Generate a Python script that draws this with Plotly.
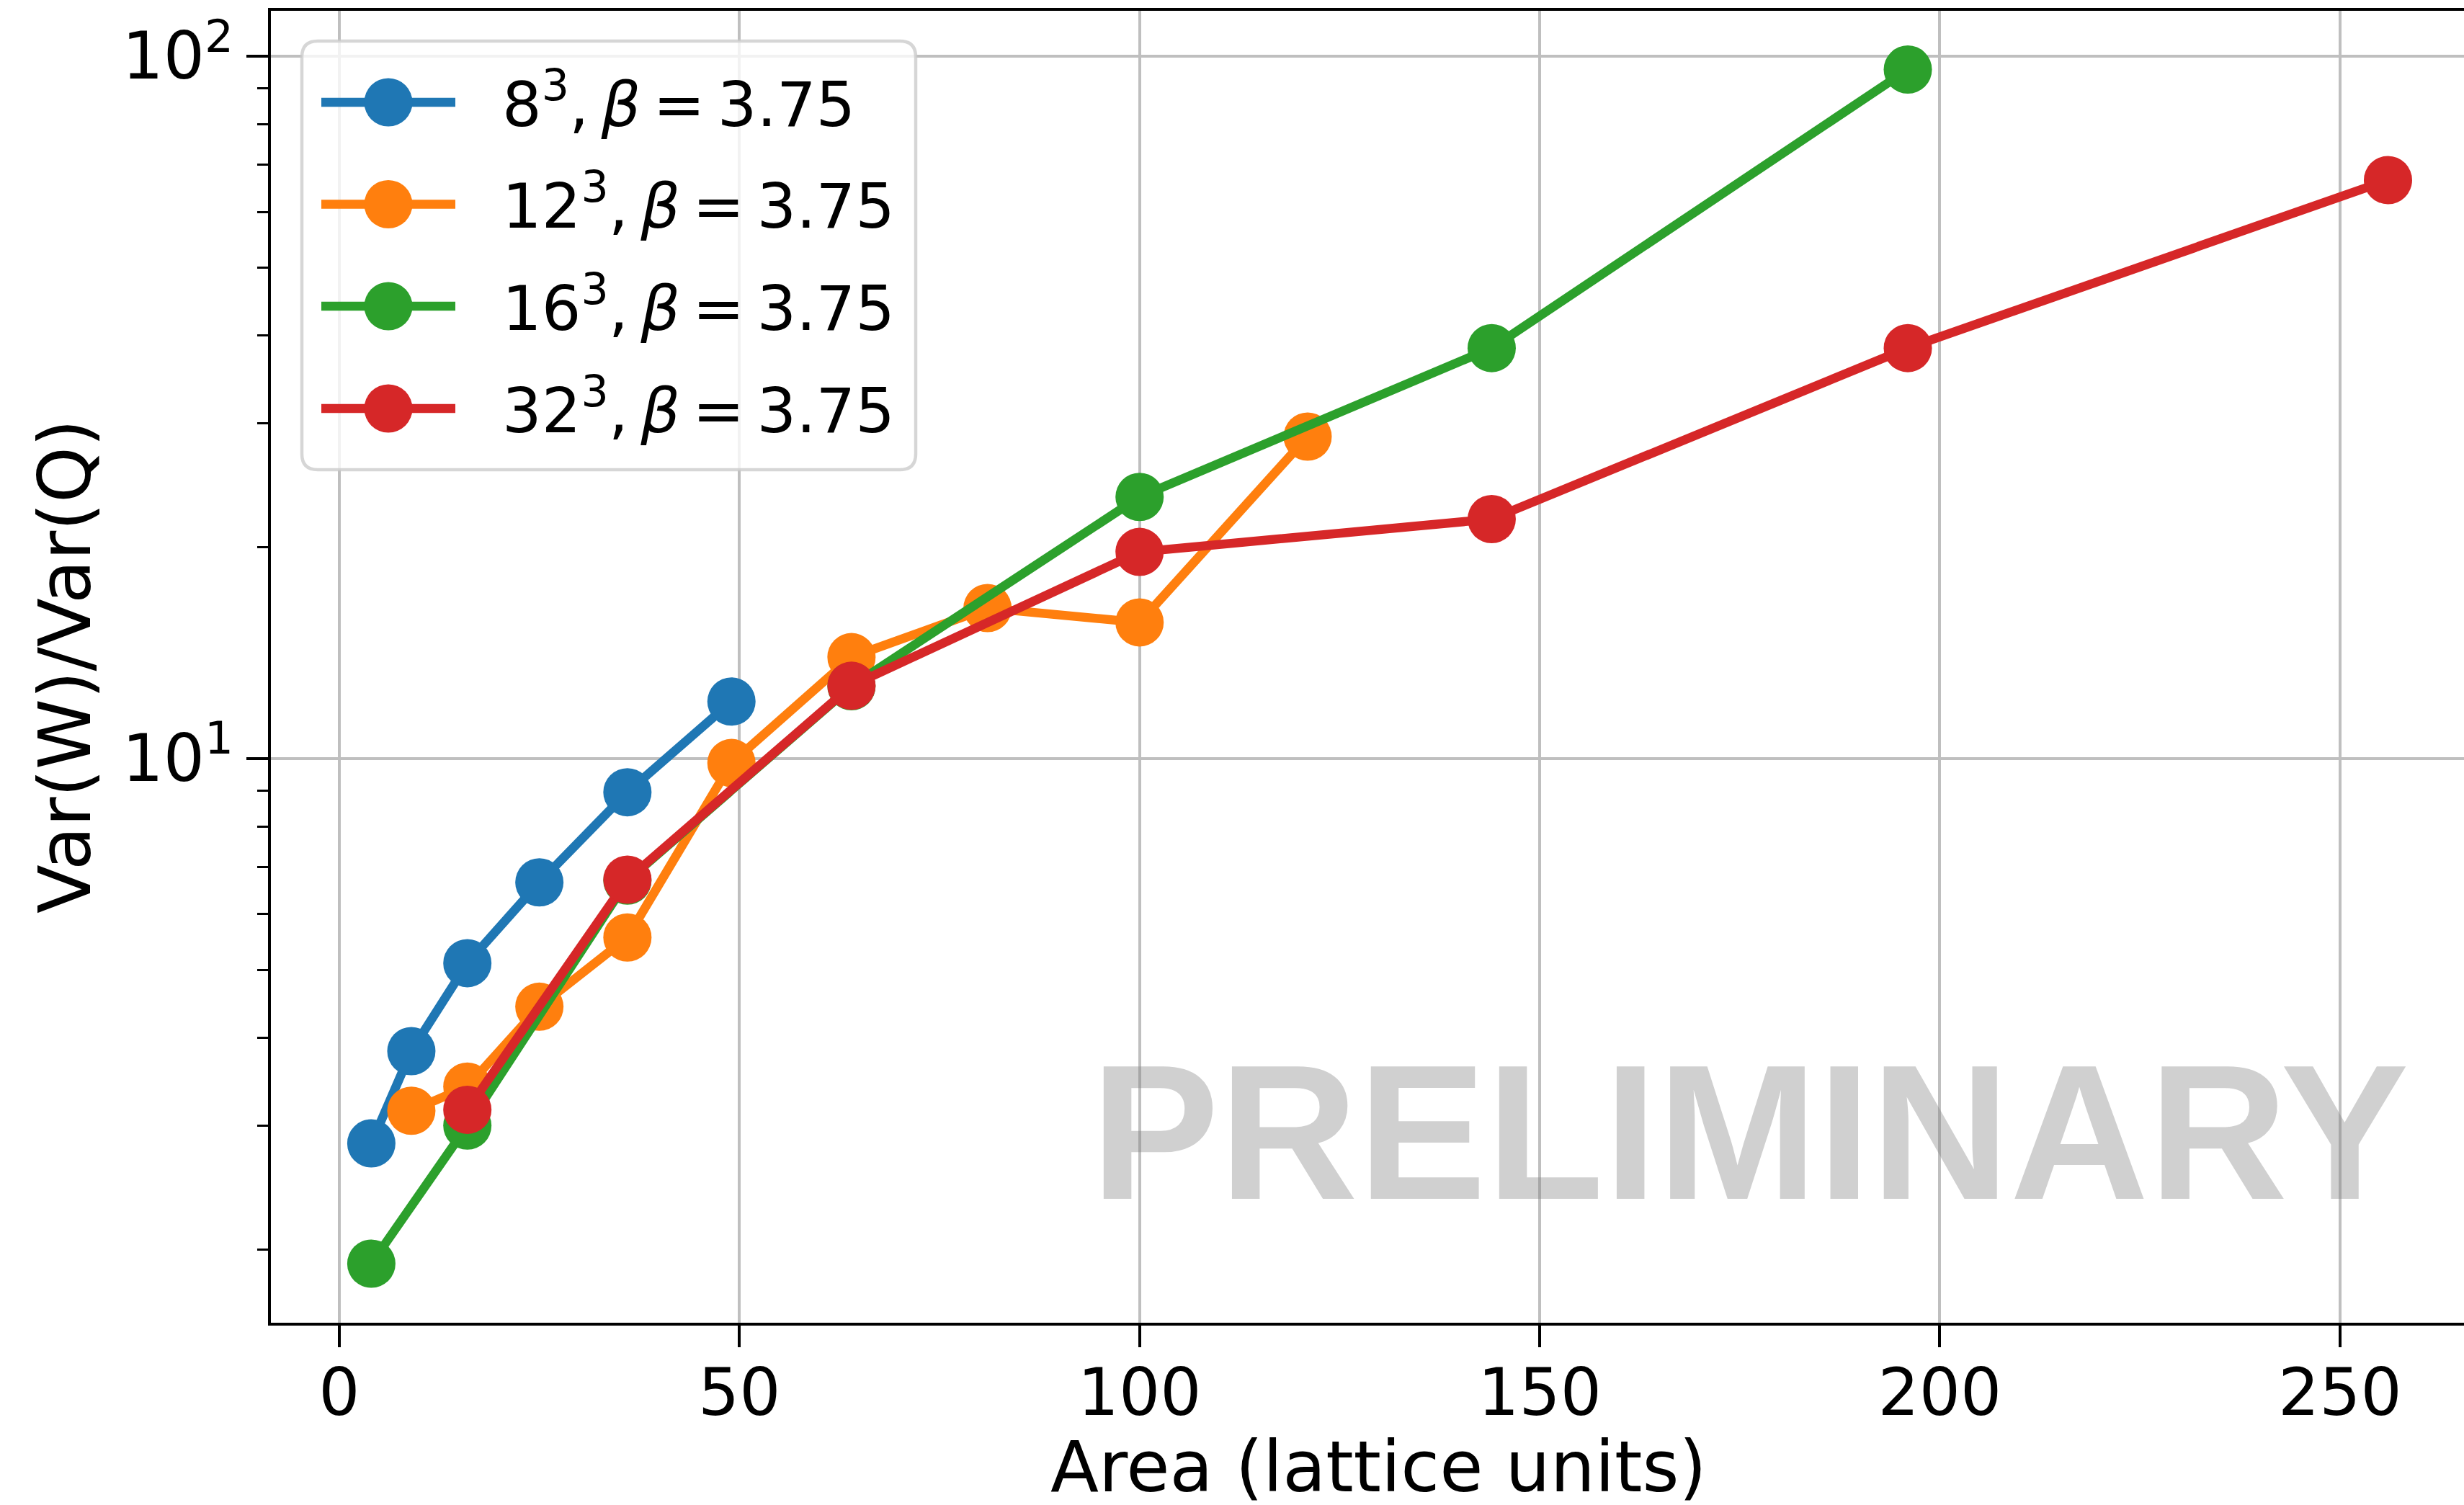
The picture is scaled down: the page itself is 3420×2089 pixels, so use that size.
import plotly.graph_objects as go

# Wilson-loop variance ratio vs loop area, one series per lattice volume
area_8 = [4, 9, 16, 25, 36, 49]
ratio_8 = [2.83, 3.83, 5.11, 6.66, 8.95, 12.05]

area_12 = [9, 16, 25, 36, 49, 64, 81, 100, 121]
ratio_12 = [3.15, 3.41, 4.43, 5.56, 9.85, 13.94, 16.37, 15.62, 28.73]

area_16 = [4, 16, 36, 64, 100, 144, 196]
ratio_16 = [1.908, 3.00, 6.70, 12.67, 23.57, 38.4, 95.7]

area_32 = [16, 36, 64, 100, 144, 196, 256]
ratio_32 = [3.16, 6.72, 12.69, 19.68, 21.92, 38.4, 66.6]

TS = "\u2009"  # thin space
series_labels = [
    f"8<sup>3</sup>,{TS}<i>β</i>{TS}={TS}3.75",
    f"12<sup>3</sup>,{TS}<i>β</i>{TS}={TS}3.75",
    f"16<sup>3</sup>,{TS}<i>β</i>{TS}={TS}3.75",
    f"32<sup>3</sup>,{TS}<i>β</i>{TS}={TS}3.75",
]
series_colors = ["#1f77b4", "#ff7f0e", "#2ca02c", "#d62728"]

x_ticks = [0, 50, 100, 150, 200, 250]
y_ticks = [10, 100]
y_tick_text = ["10<sup>1</sup>", "10<sup>2</sup>"]
y_minor = [2, 3, 4, 5, 6, 7, 8, 9, 20, 30, 40, 50, 60, 70, 80, 90]

FONT = "DejaVu Sans"
W, H = 3420, 2089
L, R, T, B = 376, 3420, 15, 1836  # plot-area edges in pixels
PW, PH = R - L, B - T


def px(xp):
    return (xp - L) / PW


def py(yp):
    return (B - yp) / PH


fig = go.Figure()
series = [(area_8, ratio_8), (area_12, ratio_12), (area_16, ratio_16), (area_32, ratio_32)]
for (xs, ys), name, color in zip(series, series_labels, series_colors):
    fig.add_trace(go.Scatter(
        x=xs, y=ys, name=name, mode="lines+markers",
        line=dict(color=color, width=12.5),
        marker=dict(color=color, size=67),
        showlegend=False,
    ))

shapes = []
annotations = []

# Legend frame with rounded corners
x0, x1, y0, y1, r = 419, 1271, 57, 652, 22
path = (
    f"M {px(x0 + r)},{py(y0)} L {px(x1 - r)},{py(y0)} "
    f"Q {px(x1)},{py(y0)} {px(x1)},{py(y0 + r)} "
    f"L {px(x1)},{py(y1 - r)} Q {px(x1)},{py(y1)} {px(x1 - r)},{py(y1)} "
    f"L {px(x0 + r)},{py(y1)} Q {px(x0)},{py(y1)} {px(x0)},{py(y1 - r)} "
    f"L {px(x0)},{py(y0 + r)} Q {px(x0)},{py(y0)} {px(x0 + r)},{py(y0)} Z"
)
shapes.append(dict(type="path", path=path, xref="paper", yref="paper",
                   fillcolor="rgba(255,255,255,0.8)",
                   line=dict(color="rgba(204,204,204,0.8)", width=4.5),
                   layer="above"))

row_y = [142, 283.5, 425, 567]
for yc, name, color in zip(row_y, series_labels, series_colors):
    shapes.append(dict(type="line", xref="paper", yref="paper",
                       x0=px(446), x1=px(632), y0=py(yc), y1=py(yc),
                       line=dict(color=color, width=12.5), layer="above"))
    rad = 33.5
    shapes.append(dict(type="circle", xref="paper", yref="paper",
                       x0=px(539 - rad), x1=px(539 + rad),
                       y0=py(yc + rad), y1=py(yc - rad),
                       fillcolor=color, line=dict(width=0), layer="above"))
    annotations.append(dict(text=name, xref="paper", yref="paper",
                            x=px(695), y=py(yc - 3), xanchor="left", yanchor="middle",
                            showarrow=False,
                            font=dict(family=FONT, size=86, color="black")))

# Watermark
annotations.append(dict(text="PRELIMINARY", xref="paper", yref="paper",
                        x=px(2429), y=py(1571), xanchor="center", yanchor="middle",
                        showarrow=False,
                        font=dict(family="Liberation Sans", size=267, weight="bold",
                                  color="rgba(128,128,128,0.37)")))

# Axis titles
annotations.append(dict(text="Area (lattice units)", xref="paper", yref="paper",
                        x=px(1913), y=py(2036), xanchor="center", yanchor="middle",
                        showarrow=False,
                        font=dict(family=FONT, size=98, color="black")))
annotations.append(dict(text="Var(W)/Var(Q)", xref="paper", yref="paper",
                        x=px(91), y=py(925), xanchor="center", yanchor="middle",
                        textangle=-90, showarrow=False,
                        font=dict(family=FONT, size=99, color="black")))

axis_common = dict(
    showline=True, linecolor="black", linewidth=4,
    ticks="outside", ticklen=30, tickwidth=4, tickcolor="black",
    showgrid=True, gridcolor="#bfbfbf", gridwidth=4,
    zeroline=False,
    tickfont=dict(family=FONT, size=90, color="black"),
)

fig.update_layout(
    width=W, height=H,
    margin=dict(l=L, r=W - R, t=T, b=H - B, pad=0),
    paper_bgcolor="white", plot_bgcolor="white",
    shapes=shapes, annotations=annotations,
    xaxis=dict(range=[-8.55, 265.5], tickvals=x_ticks, mirror=True,
               ticklabelstandoff=-14, **axis_common),
    yaxis=dict(type="log", range=[0.1964, 2.0646], tickvals=y_ticks,
               ticktext=y_tick_text, mirror=False,
               minor=dict(tickvals=y_minor, ticks="outside", ticklen=15,
                          tickwidth=3, tickcolor="black", showgrid=False),
               **axis_common),
)

fig.write_html("out.html")
